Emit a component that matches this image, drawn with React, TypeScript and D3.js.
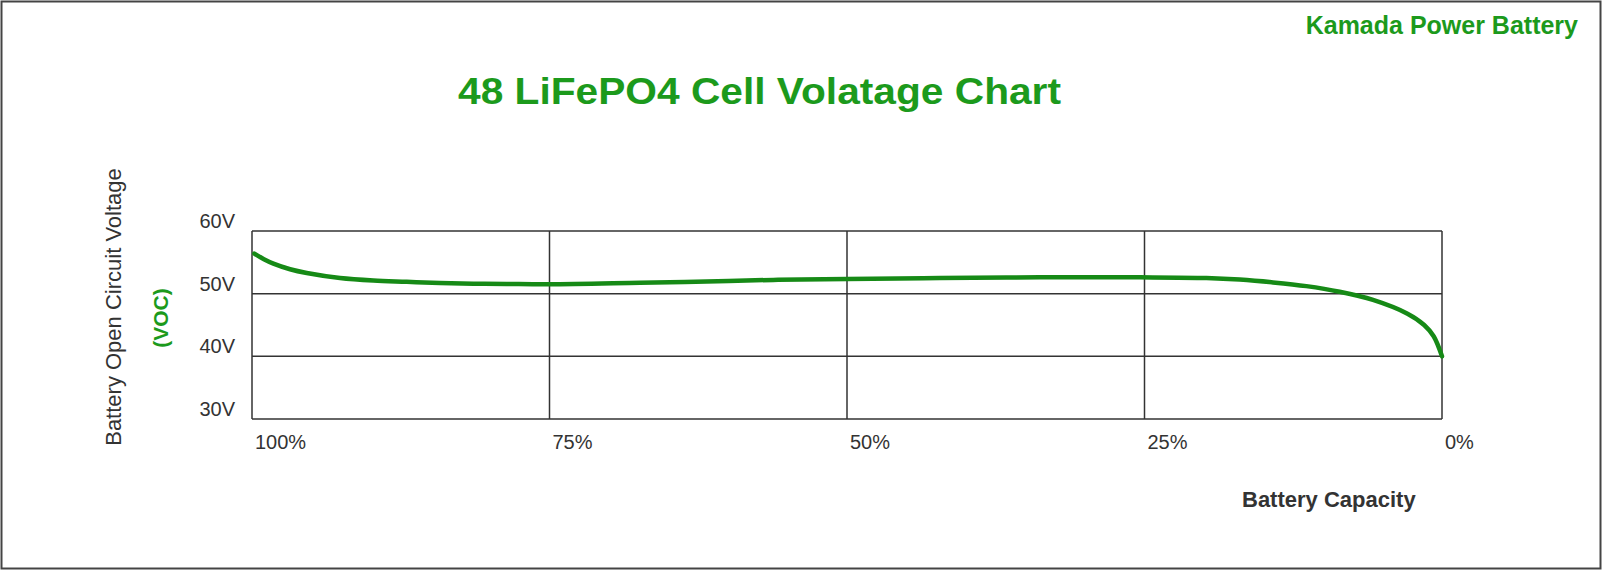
import React from "react";
import * as d3 from "d3";

// ---- data ----
const capacity = [99.8, 99.0, 98.2, 96.8, 95.4, 92.6, 89.8, 87, 84.2, 81.4, 78.6, 75, 67.4, 61.8, 56.2, 50, 42.2, 33.8, 25.4, 19.8, 17, 14.2, 11.4, 8.6, 5.8, 2.9, 1.5, 0.7, 0];
const voltage = [56.4, 55.5, 54.8, 53.9, 53.3, 52.5, 52.1, 51.9, 51.7, 51.6, 51.55, 51.5, 51.75, 51.95, 52.2, 52.35, 52.5, 52.6, 52.6, 52.5, 52.25, 51.8, 51.2, 50.3, 49.0, 46.8, 45.0, 43.2, 40.0];
const yTicks = [60, 50, 40, 30];
const yTickLabels = ["60V", "50V", "40V", "30V"];
const xTicks = [100, 75, 50, 25, 0];
const xTickLabels = ["100%", "75%", "50%", "25%", "0%"];
const title = "48 LiFePO4 Cell Volatage Chart";
const brand = "Kamada Power Battery";
const yTitle = "Battery Open Circuit Voltage";
const yUnit = "(VOC)";
const xTitle = "Battery Capacity";

const W = 1605;
const H = 573;
const M = { left: 252, right: 1442, top: 231, bottom: 419 };
const GREEN = "#1c9a1c";
const LINE = "#168a16";
const GRID = "#333";
const FONT = "'Liberation Sans', Arial, sans-serif";

export default function App() {
  const x = d3.scaleLinear().domain([100, 0]).range([M.left, M.right]);
  const y = d3.scaleLinear().domain([30, 60]).range([M.bottom, M.top]);
  const pts = capacity.map((c, i) => [c, voltage[i]] as [number, number]);
  const line = d3
    .line<[number, number]>()
    .x((d) => x(d[0]))
    .y((d) => y(d[1]))
    .curve(d3.curveCatmullRom.alpha(0.5));

  return (
    <svg width={W} height={H} style={{ position: "absolute", left: 0, top: 0, background: "#fff" }} fontFamily={FONT}>
      <rect x={1.5} y={1.5} width={1599} height={567} fill="#fff" stroke="#444" strokeWidth={2} />
      <text x={1578} y={34} textAnchor="end" fontSize={25} fontWeight="bold" fill={GREEN}>{brand}</text>
      <text x={458} y={104} fontSize={36} fontWeight="bold" fill={GREEN} textLength={603} lengthAdjust="spacingAndGlyphs">{title}</text>

      {/* grid */}
      {yTicks.map((v) => (
        <line key={"h" + v} x1={M.left} x2={M.right} y1={y(v)} y2={y(v)} stroke={GRID} strokeWidth={1.5} />
      ))}
      {xTicks.map((v) => (
        <line key={"v" + v} x1={x(v)} x2={x(v)} y1={M.top} y2={M.bottom} stroke={GRID} strokeWidth={1.5} />
      ))}

      {/* curve */}
      <path d={line(pts) || ""} fill="none" stroke={LINE} strokeWidth={4.5} strokeLinecap="round" strokeLinejoin="round" />

      {/* y tick labels */}
      {yTicks.map((v, i) => (
        <text key={"yl" + v} x={M.left - 17} y={y(v) - 3} textAnchor="end" fontSize={20} fill="#333">{yTickLabels[i]}</text>
      ))}
      {/* x tick labels */}
      {xTicks.map((v, i) => (
        <text key={"xl" + v} x={x(v) + 3} y={449} fontSize={20} fill="#333">{xTickLabels[i]}</text>
      ))}

      <text transform={`translate(121,307) rotate(-90)`} textAnchor="middle" fontSize={22} fill="#333">{yTitle}</text>
      <text transform={`translate(168,318) rotate(-90)`} textAnchor="middle" fontSize={21} fontWeight="bold" fill={GREEN}>{yUnit}</text>
      <text x={1242} y={507} fontSize={22} fontWeight="bold" fill="#333">{xTitle}</text>
    </svg>
  );
}
